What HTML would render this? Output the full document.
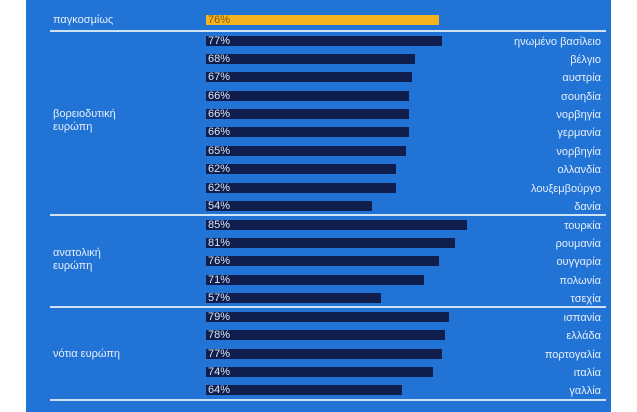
<!DOCTYPE html>
<html><head><meta charset="utf-8"><style>
body{margin:0;width:637px;height:412px;background:#fff;position:relative;overflow:hidden;font-family:"Liberation Sans","DejaVu Sans",sans-serif;}
#bg{position:absolute;left:26px;top:0;width:585px;height:412px;background:#2174d6;}
.bar{position:absolute;left:206px;height:10px;background:#0f1e4c;}
.pct{position:absolute;left:208px;font-size:11px;color:#dfe6f4;line-height:12px;}
.lab{position:absolute;right:36px;font-size:11px;color:#e8eef9;line-height:12px;text-align:right;}
.grp{position:absolute;left:53px;font-size:11px;color:#e8eef9;line-height:13px;}
.hl{position:absolute;left:50px;width:556px;height:2px;background:#cfe3f7;}
</style></head><body>
<div id="bg"></div>
<div class="bar" style="top:15px;width:233px;background:#f6b320"></div>
<div class="pct" style="top:14px;color:#7a5a10">76%</div>
<div class="grp" style="top:14px">παγκοσμίως</div>
<div class="hl" style="top:30px"></div>
<div class="grp" style="top:108px">βορειοδυτική<br>ευρώπη</div>
<div class="hl" style="top:214px"></div>
<div class="grp" style="top:247px">ανατολική<br>ευρώπη</div>
<div class="hl" style="top:306px"></div>
<div class="grp" style="top:348px">νότια ευρώπη</div>
<div class="hl" style="top:399px"></div>
<div id="rows"></div>
<script>
var d=[[77,"ηνωμένο βασίλειο",41],[68,"βέλγιο",59],[67,"αυστρία",77],[66,"σουηδία",96],[66,"νορβηγία",114],[66,"γερμανία",132],[65,"νορβηγία",151],[62,"ολλανδία",169],[62,"λουξεμβούργο",188],[54,"δανία",206],
[85,"τουρκία",225],[81,"ρουμανία",243],[76,"ουγγαρία",261],[71,"πολωνία",280],[57,"τσεχία",298],
[79,"ισπανία",317],[78,"ελλάδα",335],[77,"πορτογαλία",354],[74,"ιταλία",372],[64,"γαλλία",390]];
var h="";d.forEach(function(r){var c=r[2];
h+='<div class="bar" style="top:'+(c-5)+'px;width:'+(r[0]*3.07).toFixed(0)+'px"></div>';
h+='<div class="pct" style="top:'+(c-6)+'px">'+r[0]+'%</div>';
h+='<div class="lab" style="top:'+(c-5)+'px">'+r[1]+'</div>';});
document.getElementById("rows").innerHTML=h;
</script>
</body></html>
